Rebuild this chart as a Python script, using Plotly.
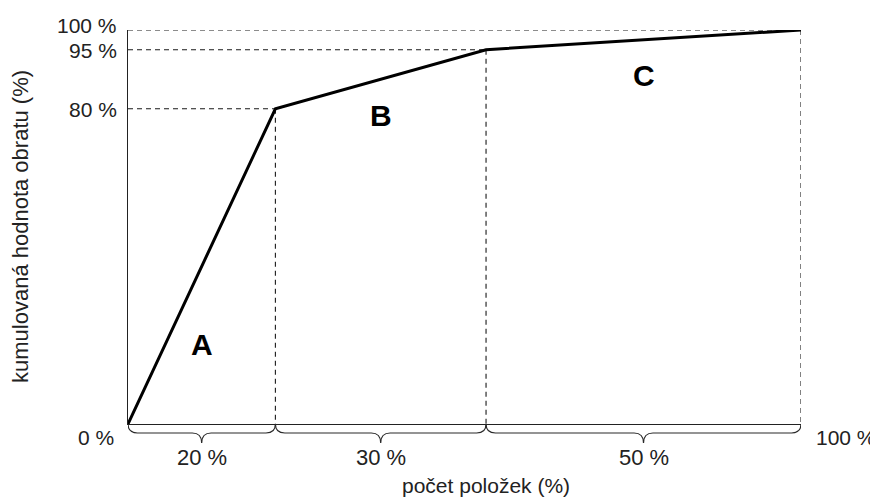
import plotly.graph_objects as go

# Data
cum_items = [0, 21.9, 53.2, 100]      # cumulative share of items (%), as drawn
cum_value = [0, 80, 95, 100]          # cumulative turnover (%)
segment_labels = ["20 %", "30 %", "50 %"]
class_labels = ["A", "B", "C"]
class_label_y = [20.3, 78.4, 88.5]
y_tick_vals = [100, 95, 80]
y_tick_text = ["100 %", "95 %", "80 %"]

FONT = "Liberation Sans, Arial, sans-serif"
DASH_COLOR = "#1a1a1a"
TXT = "#222222"

# page body has an 8px margin; plot area 128..801 x 30..424 on the page
W, H = 870, 491
L, T = 120, 22
PW, PH = 673, 394
R, B = W - L - PW, H - T - PH

fig = go.Figure()

# dashed guide lines
for xv, yv in zip(cum_items[1:], cum_value[1:]):
    fig.add_trace(go.Scatter(x=[0, xv], y=[yv, yv], mode="lines",
                             line=dict(color=DASH_COLOR, width=1.1, dash="5px,4px"),
                             hoverinfo="skip", showlegend=False))
    fig.add_trace(go.Scatter(x=[xv, xv], y=[yv, 0], mode="lines",
                             line=dict(color=DASH_COLOR, width=1.1, dash="5px,4px"),
                             hoverinfo="skip", showlegend=False))

# main curve
fig.add_trace(go.Scatter(x=cum_items, y=cum_value, mode="lines",
                         line=dict(color="black", width=3),
                         hoverinfo="skip", showlegend=False))

# curly braces under x axis (x in data, y in paper)
ym, yt = -9 / PH, -19 / PH
r = 1.4
for x0, x1 in zip(cum_items[:-1], cum_items[1:]):
    mid = (x0 + x1) / 2
    path = (f"M {x0},0 Q {x0},{ym} {x0 + r},{ym} L {mid - r},{ym} "
            f"Q {mid},{ym} {mid},{yt} Q {mid},{ym} {mid + r},{ym} "
            f"L {x1 - r},{ym} Q {x1},{ym} {x1},0")
    fig.add_shape(type="path", path=path, xref="x", yref="paper",
                  line=dict(color="#2a2a2a", width=1.2))

annotations = []
for xv0, xv1, lab in zip(cum_items[:-1], cum_items[1:], segment_labels):
    annotations.append(dict(x=(xv0 + xv1) / 2, y=-33 / PH, xref="x", yref="paper",
                            text=lab, showarrow=False, xanchor="center", yanchor="middle",
                            font=dict(family=FONT, size=22, color=TXT)))
for xv0, xv1, lab, ly in zip(cum_items[:-1], cum_items[1:], class_labels, class_label_y):
    annotations.append(dict(x=(xv0 + xv1) / 2, y=ly, xref="x", yref="y",
                            text=f"<b>{lab}</b>", showarrow=False,
                            xanchor="center", yanchor="middle",
                            font=dict(family=FONT, size=30, color="black")))
for v, t in zip(y_tick_vals, y_tick_text):
    annotations.append(dict(x=0, y=v, xref="paper", yref="y", text=t,
                            showarrow=False, xanchor="right", yanchor="middle", xshift=-9,
                            yshift=(5 if v == 100 else -1),
                            font=dict(family=FONT, size=21, color=TXT)))
annotations.append(dict(x=0, y=0, xref="paper", yref="y", text="0 %",
                        showarrow=False, xanchor="right", yanchor="middle",
                        xshift=-12, yshift=-13,
                        font=dict(family=FONT, size=21, color=TXT)))
annotations.append(dict(x=1, y=0, xref="paper", yref="y", text="100 %",
                        showarrow=False, xanchor="left", yanchor="middle",
                        xshift=13, yshift=-13,
                        font=dict(family=FONT, size=21, color=TXT)))
annotations.append(dict(x=(486 - 128) / PW, y=-(486 - 424) / PH,
                        xref="paper", yref="paper", text="počet položek (%)",
                        xanchor="center", yanchor="middle",
                        showarrow=False, font=dict(family=FONT, size=21, color=TXT)))
annotations.append(dict(x=-(128 - 20) / PW, y=0.5, xref="paper", yref="paper",
                        text="kumulovaná hodnota obratu (%)", textangle=-90,
                        xanchor="center", yanchor="middle",
                        showarrow=False, font=dict(family=FONT, size=22, color=TXT)))

fig.update_layout(
    width=W, height=H,
    margin=dict(l=L, r=R, t=T, b=B),
    plot_bgcolor="white", paper_bgcolor="white",
    showlegend=False,
    xaxis=dict(range=[0, 100], showgrid=False, zeroline=False, showticklabels=False,
               ticks="", showline=True, linecolor="#222", linewidth=1, fixedrange=True),
    yaxis=dict(range=[0, 100], showgrid=False, zeroline=False, showticklabels=False,
               ticks="", showline=True, linecolor="#222", linewidth=1, fixedrange=True),
    annotations=annotations,
)

fig.write_html("out.html")
